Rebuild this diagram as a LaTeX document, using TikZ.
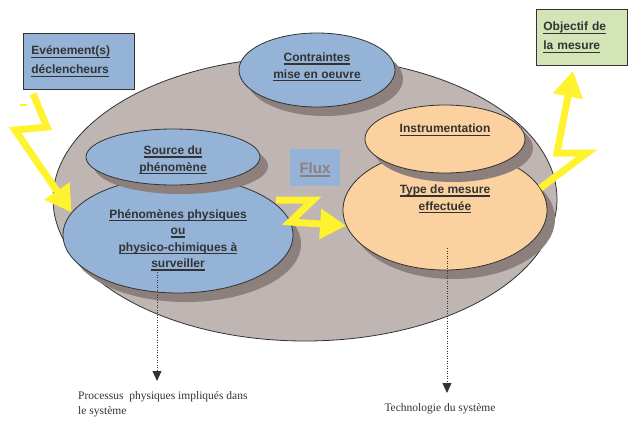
\documentclass[tikz,border=0pt]{standalone}
\usepackage{fontspec}
\setsansfont{Liberation Sans}
\newfontfamily\serifleg{Liberation Serif}
\usetikzlibrary{shapes.geometric,shadows,arrows.meta}

\definecolor{bleu}{HTML}{95B3D7}
\definecolor{peche}{HTML}{FBD29F}
\definecolor{gris}{HTML}{BFB5B3}
\definecolor{ombre}{HTML}{8C7F7C}
\definecolor{vert}{HTML}{D3E4B7}
\definecolor{jaune}{HTML}{FFF22E}
\definecolor{encre}{HTML}{333333}

% thick underline as in the original
\newsavebox{\soulbox}
\newcommand{\souligne}[1]{\leavevmode\sbox{\soulbox}{#1}\rlap{\vrule width\wd\soulbox height -1.8pt depth 3pt}\usebox{\soulbox}}

\begin{document}
\begin{tikzpicture}[x=1pt,y=-1pt,
        bulle/.style={ellipse, draw=encre, line width=0.8pt, inner sep=0pt},
        ombree/.style={general shadow={fill=ombre, shadow xshift=8pt, shadow yshift=-9pt}},
        texte/.style={font=\sffamily\bfseries\fontsize{12}{16.5}\selectfont, text=encre, align=center},
        boite/.style={draw=encre, line width=0.8pt, anchor=north west, align=left, inner xsep=8pt, inner ysep=0pt, minimum height=56pt, font=\sffamily\bfseries\fontsize{12}{19}\selectfont, text=encre},
        eclair/.style={draw=jaune, line width=7pt, line join=miter, -{Triangle[length=26pt,width=29pt]}},
        suite/.style={draw=encre, dash pattern=on 1pt off 1.5pt, line width=0.8pt, -{Triangle[length=10pt,width=9pt]}},
        legende/.style={font=\serifleg\fontsize{11.5}{15}\selectfont, text=encre, align=left, inner sep=0pt}]
        \useasboundingbox (0,0) rectangle (633,421);

        % system ellipse
        \node[bulle, fill=gris, minimum width=504pt, minimum height=284pt] (systeme) at (305,199) {};

        % blue ellipses
        \node[bulle, ombree, fill=bleu, minimum width=156pt, minimum height=74pt] (contraintes) at (317,70) {};
        \node[bulle, ombree, fill=bleu, minimum width=230pt, minimum height=116pt] (phenomenes) at (178,235) {};
        \node[bulle, ombree, fill=bleu, minimum width=174pt, minimum height=56pt] (source) at (173,157) {};

        % orange ellipses
        \node[bulle, ombree, fill=peche, minimum width=204pt, minimum height=120pt] (mesure) at (445,210) {};
        \node[bulle, ombree, fill=peche, minimum width=160pt, minimum height=68pt] (instrumentation) at (445,139) {};

        % ellipse texts
        \node[texte] (t_contraintes) at (317,67) {\souligne{Contraintes}\\\souligne{mise en oeuvre}};
        \node[texte] (t_source) at (173,160) {\souligne{Source du}\\\souligne{phénomène}};
        \node[texte] (t_phenomenes) at (178,240) {\souligne{Phénomènes physiques}\\\souligne{ou}\\\souligne{physico-chimiques à}\\\souligne{surveiller}};
        \node[texte] (t_instrumentation) at (445,130) {\souligne{Instrumentation}};
        \node[texte] (t_mesure) at (445,199) {\souligne{Type de mesure}\\\souligne{effectuée}};

        % flux label
        \node[fill=bleu, minimum width=50pt, minimum height=37pt, inner sep=0pt, text height=16pt, text depth=3pt, text=ombre, font=\sffamily\bfseries\fontsize{15}{18}\selectfont] (flux) at (315,167) {\souligne{Flux}};

        % lightning arrows
        \coordinate (e1) at (47,127);
        \coordinate (e2) at (15,130);
        \coordinate (z0) at (276,200);
        \coordinate (z1) at (313,200);
        \coordinate (z2) at (290,222);
        \coordinate (r1) at (587,153);
        \coordinate (r2) at (557,153);

        % boxes
        \node[boite, fill=bleu, text width=95pt] (evenement) at (23,33) {\souligne{Evénement(s)}\\\souligne{déclencheurs}};
        \node[boite, fill=vert, text width=77pt, inner xsep=7pt] (objectif) at (536,9) {\souligne{Objectif de}\\\souligne{la mesure}};

        \draw[eclair] ([xshift=10pt,yshift=-4pt]evenement.south west) -- (e1) -- (e2) -- (phenomenes.168);
        \draw[eclair] (z0) -- (z1) -- (z2) -- (mesure.189);
        \draw[eclair] (mesure.13) -- (r1) -- (r2) -- ([xshift=-9pt,yshift=-5pt]objectif.south);
        \draw[jaune, line width=1.5pt] (20,105) -- (27,105);

        % captions below
        \node[legende, anchor=north west] (processus) at (78,391) {Processus\ \ physiques impliqués dans\\le système};
        \node[legende, anchor=north] (technologie) at (440,403) {Technologie du système};

        % dotted arrows
        \coordinate (d1) at (157,272);
        \coordinate (d2) at (447,248);
        \draw[suite, shorten >=10pt] (d1) -- (d1 |- processus.north);
        \draw[suite, shorten >=10pt] (d2) -- (d2 |- technologie.north);
\end{tikzpicture}
\end{document}
